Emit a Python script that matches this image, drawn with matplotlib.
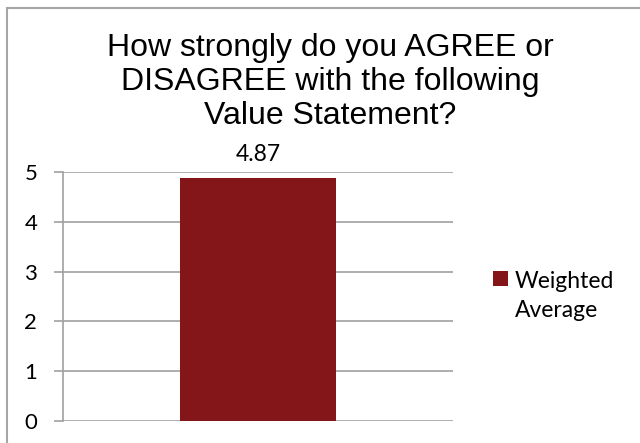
import matplotlib
matplotlib.use("Agg")
import matplotlib.pyplot as plt
from matplotlib.patches import Rectangle

# data
categories = [""]
weighted_avg = [4.87]
series_name = "Weighted Average"
y_ticks = [0, 1, 2, 3, 4, 5]
title = "How strongly do you AGREE or\nDISAGREE with the following\nValue Statement?"

bar_color = "#84161a"
grid_color = "#a0a0a0"
label_font = ["Lato", "DejaVu Sans"]

fig = plt.figure(figsize=(6.4, 4.43), dpi=100)
fig.patch.set_facecolor("white")

# outer chart border (cut off on right/bottom like the screenshot)
fig.patches.append(Rectangle((7 / 640, -0.05), 1.0, 1.05 - 7.5 / 443,
                             transform=fig.transFigure, fill=False,
                             edgecolor="#a6a6a6", linewidth=1.5))

ax = fig.add_axes([63 / 640, 1 - 421 / 443, 390 / 640, 249 / 443])
xs = list(range(len(categories)))
bars = ax.bar(xs, weighted_avg, width=0.4, color=bar_color, label=series_name, zorder=3)
ax.set_xlim(-0.5, 0.5)
ax.set_ylim(0, 5)
ax.set_yticks(y_ticks)
ax.set_xticks([])
ax.yaxis.grid(True, color=grid_color, linewidth=1.2, zorder=0)

for s in ["top", "right", "bottom"]:
    ax.spines[s].set_visible(False)
ax.spines["left"].set_color(grid_color)
ax.spines["left"].set_linewidth(1.2)
ax.tick_params(axis="y", length=6.5, color=grid_color, width=1.2, pad=12,
               labelsize=16)
for t in ax.get_yticklabels():
    t.set_fontfamily(label_font)

for b, v in zip(bars, weighted_avg):
    ax.annotate(f"{v:.2f}", (b.get_x() + b.get_width() / 2, v),
                xytext=(0, 10), textcoords="offset points",
                ha="center", va="bottom", fontsize=16.5, family=label_font)

fig.text(330 / 640, 1 - 82 / 443, title, ha="center", va="center",
         fontsize=23, family=["Liberation Sans", "DejaVu Sans"],
         linespacing=1.18)

# legend
fig.patches.append(Rectangle((493 / 640, 1 - 286 / 443), 15 / 640, 15 / 443,
                             transform=fig.transFigure, facecolor=bar_color,
                             edgecolor="none"))
fig.text(515 / 640, 1 - 296 / 443, "Weighted\nAverage", ha="left", va="center",
         fontsize=16.5, family=label_font, linespacing=1.5)

fig.savefig("out.png", dpi=100)
